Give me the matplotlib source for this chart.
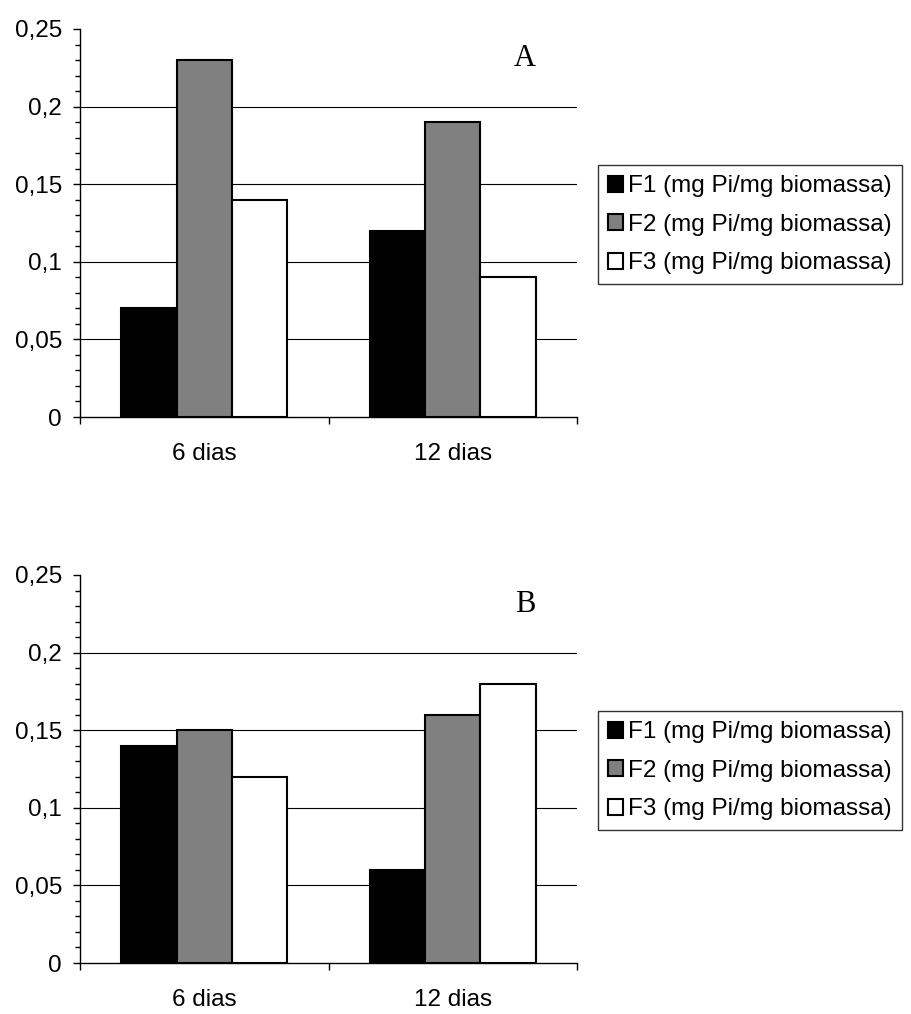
import matplotlib
matplotlib.use("Agg")
import matplotlib.pyplot as plt
from matplotlib.ticker import MultipleLocator, FixedLocator, FuncFormatter
import numpy as np

categories = ["6 dias", "12 dias"]
series_names = ["F1 (mg Pi/mg biomassa)", "F2 (mg Pi/mg biomassa)", "F3 (mg Pi/mg biomassa)"]
colors = ["#000000", "#808080", "#ffffff"]

panel_A = {"F1": [0.07, 0.12], "F2": [0.23, 0.19], "F3": [0.14, 0.09]}
panel_B = {"F1": [0.14, 0.06], "F2": [0.15, 0.16], "F3": [0.12, 0.18]}
panel_labels = ["A", "B"]
yticks = [0, 0.05, 0.1, 0.15, 0.2, 0.25]

plt.rcParams['font.family'] = ['Liberation Sans', 'DejaVu Sans']

W, H = 911, 1014
fig = plt.figure(figsize=(W / 100, H / 100), dpi=100)

def px_axes(left, top, right, bottom):
    return fig.add_axes([left / W, 1 - bottom / H, (right - left) / W, (bottom - top) / H])

ax_specs = [(px_axes(80, 29, 577, 417), panel_A, panel_labels[0], 165),
            (px_axes(80, 575, 577, 963), panel_B, panel_labels[1], 711)]

FS = 17.5
width = 0.223
x = np.arange(len(categories))
fmt = FuncFormatter(lambda v, p: ("%g" % round(v, 4)).replace(".", ","))

for ax, data, lab, legtop in ax_specs:
    handles = []
    for i, key in enumerate(["F1", "F2", "F3"]):
        b = ax.bar(x + (i - 1) * width, data[key], width, color=colors[i],
                   edgecolor="black", linewidth=1.5, label=series_names[i], zorder=3)
        handles.append(b)
    ax.set_xlim(-0.5, len(categories) - 0.5)
    ax.set_ylim(0, 0.25)
    ax.yaxis.set_major_locator(FixedLocator(yticks))
    ax.yaxis.set_minor_locator(MultipleLocator(0.01))
    ax.yaxis.set_major_formatter(fmt)
    ax.set_xticks(x)
    ax.set_xticklabels(categories)
    ax.xaxis.set_minor_locator(FixedLocator(np.arange(-0.5, len(categories), 1.0)))
    ax.tick_params(axis="x", which="major", length=0, pad=19, labelsize=FS)
    ax.tick_params(axis="x", which="minor", length=5, width=1, direction="out")
    ax.tick_params(axis="y", which="major", length=5, width=1, direction="out", pad=8, labelsize=FS)
    ax.tick_params(axis="y", which="minor", length=3.5, width=1, direction="out")
    for s in ["top", "right"]:
        ax.spines[s].set_visible(False)
    for s in ["left", "bottom"]:
        ax.spines[s].set_linewidth(1.0)
    for yv in yticks[1:-1]:
        ax.axhline(yv, color="black", linewidth=0.8, zorder=1)
    ax.text(0.895, 0.925, lab, transform=ax.transAxes, ha="center", va="center",
            fontsize=22, family=["Liberation Serif", "DejaVu Serif"])
    leg = fig.legend(handles=handles, loc="upper left",
                     bbox_to_anchor=(598 / W, 1 - legtop / H), borderaxespad=0,
                     fontsize=FS, frameon=True, fancybox=False, shadow=False,
                     handlelength=0.62, handleheight=0.62, handletextpad=0.2,
                     labelspacing=0.68, borderpad=0.42)
    leg.get_frame().set_edgecolor("black")
    leg.get_frame().set_linewidth(1.0)

fig.savefig("out.png", dpi=100)
